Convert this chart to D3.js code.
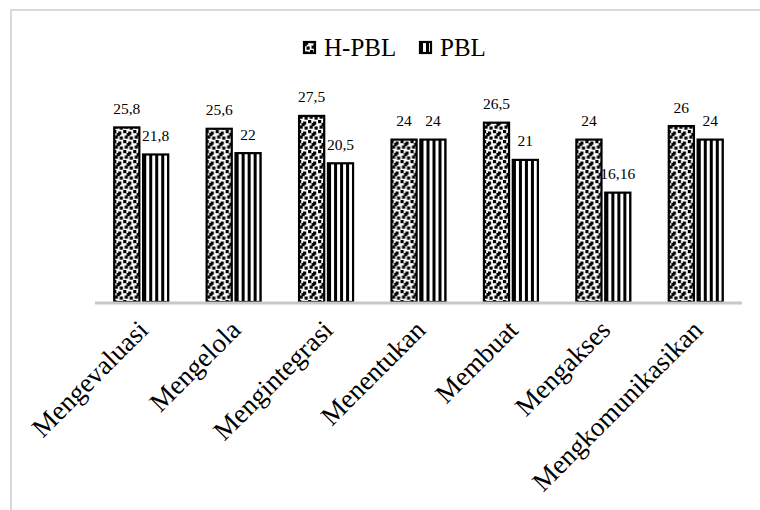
<!DOCTYPE html>
<html><head><meta charset="utf-8">
<script src="https://cdn.jsdelivr.net/npm/d3@7"></script>
</head><body style="margin:0">
<svg id="c" width="760" height="510" font-family="Liberation Serif"></svg>
<script>
const categories = ["Mengevaluasi","Mengelola","Mengintegrasi","Menentukan","Membuat","Mengakses","Mengkomunikasikan"];
const seriesNames = ["H-PBL","PBL"];
const hpbl = [25.8, 25.6, 27.5, 24, 26.5, 24, 26];
const pbl = [21.8, 22, 20.5, 24, 21, 16.16, 24];

const FONT = "Liberation Serif";
const svg = d3.select("#c");
const defs = svg.append("defs");
// confetti pattern
const pc = defs.append("pattern").attr("id","confetti").attr("patternUnits","userSpaceOnUse").attr("width",10).attr("height",10);
pc.append("rect").attr("width",10).attr("height",10).attr("fill","#fff");
[[0,0],[5,1.5],[1.5,5.5],[6.5,6.5],[3.5,3]].forEach(p=>pc.append("rect").attr("x",p[0]).attr("y",p[1]).attr("width",3.2).attr("height",3.2).attr("fill","#000"));
// stripe pattern
const ps = defs.append("pattern").attr("id","stripes").attr("patternUnits","userSpaceOnUse").attr("width",6).attr("height",6);
ps.append("rect").attr("width",6).attr("height",6).attr("fill","#fff");
ps.append("rect").attr("x",0).attr("width",3).attr("height",6).attr("fill","#000");
const fills = {"H-PBL":"url(#confetti)","PBL":"url(#stripes)"};

// border
svg.append("rect").attr("x",11).attr("y",10).attr("width",760).attr("height",520)
  .attr("fill","none").attr("stroke","#d9d9d9").attr("stroke-width",2);

const x0 = d3.scaleBand().domain(categories).range([95,742]);
const groupW = 56;
const x1 = d3.scaleBand().domain(seriesNames).range([0,groupW]).paddingInner(0.06);
const y = d3.scaleLinear().domain([0,30]).range([302,99]);

const data = categories.map((c,i)=>({c, vals:[{s:"H-PBL",v:hpbl[i]},{s:"PBL",v:pbl[i]}]}));

const g = svg.append("g");
const grp = g.selectAll("g.grp").data(data).join("g")
  .attr("transform",d=>`translate(${x0(d.c)+(x0.bandwidth()-groupW)/2},0)`);
grp.selectAll("rect").data(d=>d.vals).join("rect")
  .attr("x",d=>x1(d.s)+1).attr("width",x1.bandwidth()-2)
  .attr("y",d=>y(d.v)).attr("height",d=>y(0)-y(d.v))
  .attr("fill",d=>fills[d.s]).attr("stroke","#000").attr("stroke-width",2.2);
grp.selectAll("text").data(d=>d.vals).join("text")
  .attr("x",d=>x1(d.s)+x1.bandwidth()/2).attr("y",d=>y(d.v)-13.5)
  .attr("text-anchor","middle").style("font-family",FONT).attr("font-size",15.5).attr("fill","#000")
  .text(d=>String(d.v).replace(".",","));

// baseline
svg.append("line").attr("x1",x0.range()[0]).attr("x2",x0.range()[1]).attr("y1",y(0)+1).attr("y2",y(0)+1)
  .attr("stroke","#c8c8c8").attr("stroke-width",3);

// category labels
svg.append("g").selectAll("text").data(categories).join("text")
  .attr("transform",d=>`translate(${x0(d)+x0.bandwidth()/2-5},${318}) rotate(-45)`)
  .attr("text-anchor","end").attr("dominant-baseline","hanging")
  .style("font-family",FONT).attr("font-size",27).attr("fill","#000").text(d=>d);

// legend
const leg = svg.append("g");
const legItems = [{s:"H-PBL",x:303},{s:"PBL",x:419}];
legItems.forEach(it=>{
  leg.append("rect").attr("x",it.x+1).attr("y",42).attr("width",11).attr("height",11)
    .attr("fill",fills[it.s]).attr("stroke","#000").attr("stroke-width",2.2);
  leg.append("text").attr("x",it.x+21).attr("y",56).style("font-family",FONT).attr("font-size",25).attr("fill","#000").text(it.s);
});
</script>
</body></html>
